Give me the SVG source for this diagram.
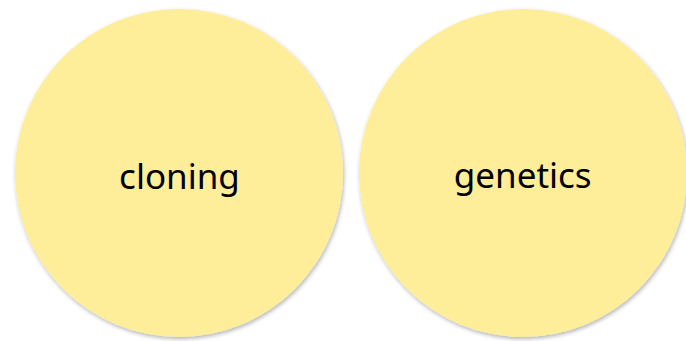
<svg xmlns="http://www.w3.org/2000/svg" width="686" height="341" viewBox="0 0 686 341">
  <defs>
    <filter id="shadow" x="-10%" y="-10%" width="120%" height="120%">
      <feDropShadow dx="1" dy="2" stdDeviation="2" flood-color="#000" flood-opacity="0.3"/>
    </filter>
    <style>
      .circle { fill: #FEED99; filter: url(#shadow); }
      .label { font-family: "Noto Sans", "Open Sans", sans-serif; font-size: 35px; fill: #000; text-anchor: middle; }
    </style>
  </defs>
  <rect width="686" height="341" fill="#fff"/>
  <g id="node-cloning">
    <circle class="circle" cx="179" cy="173" r="164"/>
    <text class="label" x="179.5" y="189">cloning</text>
  </g>
  <g id="node-genetics">
    <circle class="circle" cx="523" cy="173" r="164"/>
    <text class="label" x="522.7" y="188">genetics</text>
  </g>
  <g id="connectors"/>
</svg>
